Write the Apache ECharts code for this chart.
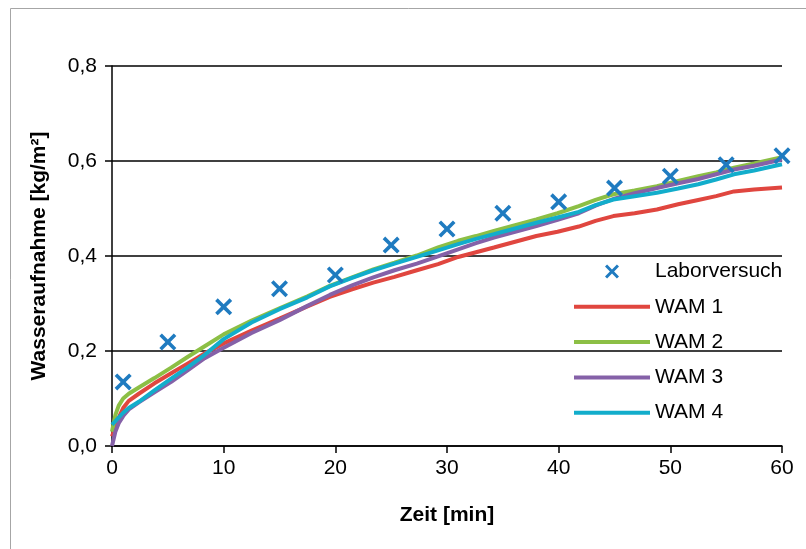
<!DOCTYPE html>
<html>
<head>
<meta charset="utf-8">
<script src="https://cdn.jsdelivr.net/npm/echarts@6/dist/echarts.min.js"></script>
<style>
html,body{margin:0;padding:0;background:#fff;}
#chart{width:806px;height:549px;}
</style>
</head>
<body>
<div id="chart"></div>
<script>
// Laborversuch (measured points)
const labTime = [1, 5, 10, 15, 20, 25, 30, 35, 40, 45, 50, 55, 60];
const labValues = [0.135, 0.219, 0.293, 0.331, 0.360, 0.423, 0.457, 0.490, 0.514, 0.543, 0.568, 0.592, 0.611];

// simulated curves (time in min)
const simTime = [0, 0.3, 0.6, 1, 1.5, 2.4, 3.8, 5.3, 6.8, 8.3, 10, 12.5, 15, 17.5, 19.5, 21.5, 23.4, 25.3, 27.3, 29.2, 31, 32.6, 34.2, 36.1, 38, 39.9, 41.8, 43.3, 44.9, 46.8, 48.8, 50.7, 52.5, 54.1, 55.7, 57.5, 60];
const wam1 = [0.020, 0.040, 0.060, 0.080, 0.095, 0.110, 0.132, 0.153, 0.174, 0.195, 0.216, 0.243, 0.268, 0.294, 0.314, 0.330, 0.344, 0.356, 0.370, 0.383, 0.398, 0.408, 0.418, 0.430, 0.442, 0.451, 0.462, 0.474, 0.484, 0.490, 0.498, 0.509, 0.518, 0.526, 0.536, 0.540, 0.544];
const wam2 = [0.030, 0.065, 0.085, 0.100, 0.110, 0.123, 0.143, 0.165, 0.188, 0.210, 0.235, 0.264, 0.290, 0.315, 0.337, 0.355, 0.372, 0.386, 0.401, 0.418, 0.432, 0.442, 0.453, 0.465, 0.477, 0.490, 0.505, 0.518, 0.530, 0.538, 0.547, 0.558, 0.568, 0.576, 0.586, 0.595, 0.608];
const wam3 = [0.000, 0.030, 0.048, 0.063, 0.077, 0.092, 0.113, 0.135, 0.160, 0.185, 0.207, 0.238, 0.265, 0.295, 0.318, 0.338, 0.355, 0.370, 0.384, 0.399, 0.414, 0.427, 0.439, 0.451, 0.463, 0.476, 0.490, 0.506, 0.520, 0.532, 0.543, 0.553, 0.562, 0.572, 0.582, 0.590, 0.603];
const wam4 = [0.045, 0.052, 0.060, 0.070, 0.080, 0.093, 0.117, 0.142, 0.166, 0.192, 0.225, 0.260, 0.288, 0.313, 0.336, 0.354, 0.370, 0.384, 0.398, 0.412, 0.425, 0.436, 0.446, 0.458, 0.470, 0.481, 0.493, 0.507, 0.519, 0.526, 0.533, 0.542, 0.551, 0.561, 0.572, 0.580, 0.593];

const xTicks = [0, 10, 20, 30, 40, 50, 60];
const yTicks = [0, 0.2, 0.4, 0.6, 0.8];

const FONT = 'Liberation Sans, Arial, sans-serif';
const xShape = 'path://M0,1.5 L1.5,0 L5,3.5 L8.5,0 L10,1.5 L6.5,5 L10,8.5 L8.5,10 L5,6.5 L1.5,10 L0,8.5 L3.5,5 Z';
const lineIcon = 'path://M0,0 L76,0 L76,4 L0,4 Z';

function pairs(t, v) { return t.map((x, i) => [x, v[i]]); }

const lineDefs = [
  {name: 'WAM 1', data: wam1, color: '#E0463F'},
  {name: 'WAM 2', data: wam2, color: '#8CBF45'},
  {name: 'WAM 3', data: wam3, color: '#8561A8'},
  {name: 'WAM 4', data: wam4, color: '#12ADCB'}
];
const lineSeries = lineDefs.map((s, i) => ({
  name: s.name,
  type: 'line',
  data: pairs(simTime, s.data),
  symbol: 'none',
  showSymbol: false,
  smooth: false,
  z: 2 + i,
  lineStyle: {color: s.color, width: 4},
  itemStyle: {color: s.color},
  animation: false
}));

const chart = echarts.init(document.getElementById('chart'), null, {renderer: 'canvas'});
chart.setOption({
  backgroundColor: '#fff',
  animation: false,
  textStyle: {fontFamily: FONT},
  graphic: [{
    type: 'rect', x: 10, y: 8, z: -10,
    shape: {x: 0.5, y: 0.5, width: 900, height: 700},
    style: {fill: 'none', stroke: '#a6a6a6', lineWidth: 1}
  }],
  grid: {left: 112, right: 24, top: 66, bottom: 103, containLabel: false},
  legend: {
    orient: 'vertical',
    left: 574, top: 261,
    itemWidth: 76, itemHeight: 14, itemGap: 14.3,
    padding: 0,
    textStyle: {fontSize: 21, color: '#000', fontFamily: FONT},
    data: [{name: 'Laborversuch', icon: xShape}].concat(
      lineDefs.map(s => ({name: s.name, icon: lineIcon})))
  },
  xAxis: {
    type: 'value', min: 0, max: 60, interval: 10,
    name: 'Zeit [min]', nameLocation: 'middle', nameGap: 59,
    nameTextStyle: {fontSize: 21, fontWeight: 'bold', color: '#000', fontFamily: FONT},
    axisLine: {show: true, onZero: false, lineStyle: {color: '#000', width: 1.5}},
    axisTick: {show: true, inside: false, length: 7, lineStyle: {color: '#000', width: 1.5}},
    axisLabel: {fontSize: 21, color: '#000', margin: 12, fontFamily: FONT,
      formatter: v => xTicks.includes(v) ? String(v) : ''},
    splitLine: {show: false}
  },
  yAxis: {
    type: 'value', min: 0, max: 0.8, interval: 0.2,
    name: 'Wasseraufnahme [kg/m²]', nameLocation: 'middle', nameGap: 62,
    nameTextStyle: {fontSize: 21, fontWeight: 'bold', color: '#000', fontFamily: FONT},
    axisLine: {show: true, lineStyle: {color: '#000', width: 1.5}},
    axisTick: {show: true, inside: false, length: 7, lineStyle: {color: '#000', width: 1.5}},
    axisLabel: {fontSize: 21, color: '#000', margin: 15, fontFamily: FONT,
      formatter: v => {
        const t = yTicks.find(y => Math.abs(y - v) < 1e-9);
        return t === undefined ? '' : t.toFixed(1).replace('.', ',');
      }},
    splitLine: {show: true, lineStyle: {color: '#000', width: 1.5}}
  },
  series: [
    {
      name: 'Laborversuch',
      type: 'scatter',
      data: pairs(labTime, labValues),
      symbol: xShape,
      symbolSize: 17,
      z: 10,
      itemStyle: {color: '#1F7BC0', opacity: 1}
    }
  ].concat(lineSeries)
});
</script>
</body>
</html>
